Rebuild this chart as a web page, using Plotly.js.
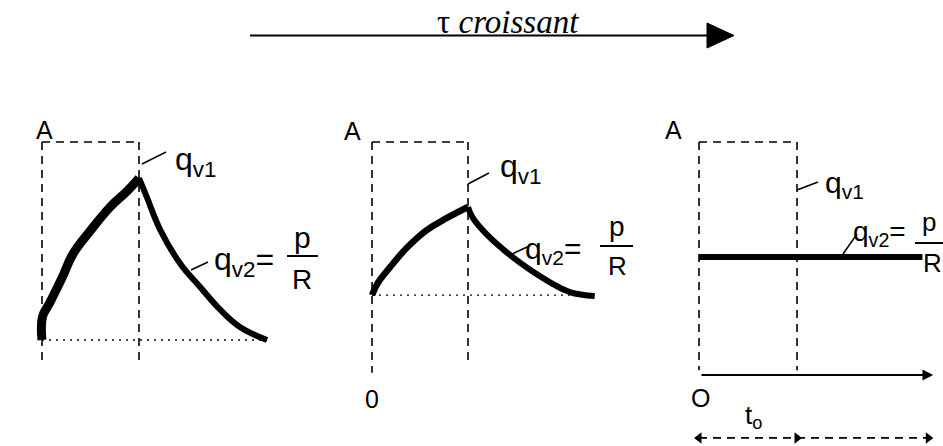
<!DOCTYPE html>
<html>
<head>
<meta charset="utf-8">
<script src="https://cdn.plot.ly/plotly-3.0.1.min.js"></script>
<style>
  html, body { margin: 0; padding: 0; background: #fff; }
  #chart { width: 943px; height: 446px; }
</style>
</head>
<body>
<div id="chart"></div>
<script>
// time in units of t0, signal in units of A
const T0 = 1;
const A = 1;

// panel 1 (small tau)
const p1RiseT = [0, 0.005, 0.08, 0.21, 0.32, 0.5, 0.7, 0.88, 1.0];
const p1RiseQ = [0.15, 0.25, 0.31, 0.42, 0.52, 0.62, 0.72, 0.79, 0.845];
const p1FallT = [1.0, 1.08, 1.22, 1.42, 1.63, 1.84, 2.04, 2.32];
const p1FallQ = [0.845, 0.764, 0.622, 0.481, 0.378, 0.279, 0.206, 0.15];
const p1Base = 0.15;
const p1End = 2.32;
const p1Bottom = [0.04, 0.04];

// panel 2 (medium tau)
const p2RiseT = [0, 0.06, 0.19, 0.37, 0.57, 0.78, 1.0];
const p2RiseQ = [0.343, 0.395, 0.464, 0.549, 0.622, 0.674, 0.721];
const p2FallT = [1.0, 1.05, 1.2, 1.41, 1.62, 1.85, 2.06, 2.32];
const p2FallQ = [0.721, 0.674, 0.601, 0.524, 0.459, 0.399, 0.356, 0.339];
const p2Base = 0.343;
const p2End = 2.32;
const p2Bottom = [0.01, 0.064];

// panel 3 (large tau)
const p3T = [0, 2.28];
const p3Q = [0.506, 0.506];
const p3Bottom = [0.02, 0.02];
const p3AxisEnd = 2.39;
const p3SpanY = -0.27;
const p3SpanT = [0, T0, 2.34];

const W = 943, H = 446;
const px = (x) => x / W;
const py = (y) => 1 - y / H;

function dashed(xa, ya, x, y) {
    return { x: x, y: y, xaxis: xa, yaxis: ya, mode: 'lines', hoverinfo: 'skip',
        line: { color: '#000', width: 1.6, dash: '8px,6px' } };
}
function dotted(xa, ya, x, y) {
    return { x: x, y: y, xaxis: xa, yaxis: ya, mode: 'lines', hoverinfo: 'skip',
        line: { color: '#000', width: 1.4, dash: '2px,5px' } };
}
function curve(xa, ya, x, y, w) {
    return { x: x, y: y, xaxis: xa, yaxis: ya, mode: 'lines', hoverinfo: 'skip',
        line: { color: '#000', width: w, shape: 'spline', smoothing: 1.2 } };
}
function box(xa, ya, bottom) {
    return [
        dashed(xa, ya, [0, 0], [A, bottom[0]]),
        dashed(xa, ya, [T0, T0], [A, bottom[1]]),
        dashed(xa, ya, [0, T0], [A, A])
    ];
}

const data = [].concat(
    box('x', 'y', p1Bottom),
    [dotted('x', 'y', [0, p1End], [p1Base, p1Base]),
     curve('x', 'y', p1RiseT, p1RiseQ, 9),
     curve('x', 'y', p1FallT, p1FallQ, 6)],
    box('x2', 'y2', p2Bottom),
    [dotted('x2', 'y2', [0, p2End], [p2Base, p2Base]),
     curve('x2', 'y2', p2RiseT, p2RiseQ, 6.5),
     curve('x2', 'y2', p2FallT, p2FallQ, 6)],
    box('x3', 'y3', p3Bottom),
    [curve('x3', 'y3', p3T, p3Q, 6),
     dashed('x3', 'y3', [p3SpanT[0], p3SpanT[2]], [p3SpanY, p3SpanY]),
     { x: p3SpanT, y: p3SpanT.map(() => p3SpanY), xaxis: 'x3', yaxis: 'y3',
       mode: 'markers', hoverinfo: 'skip',
       marker: { color: '#000', size: 10, symbol: ['triangle-left', 'triangle-right', 'triangle-right'] } }]
);

const yRange = [-0.3047, 1.6094];
const hidden = { visible: false, fixedrange: true };

const hand = { family: 'Liberation Sans, Arial, sans-serif', color: '#000' };
function label(text, x, y, size, xanchor) {
    return { text: text, x: px(x), y: py(y), xref: 'paper', yref: 'paper',
        showarrow: false, xanchor: xanchor || 'center', yanchor: 'middle',
        font: Object.assign({ size: size }, hand) };
}
function leader(x0, y0, x1, y1) {
    return { type: 'line', xref: 'paper', yref: 'paper',
        x0: px(x0), y0: py(y0), x1: px(x1), y1: py(y1),
        line: { color: '#000', width: 1.5 } };
}
function bar(x0, x1, y) {
    return { type: 'line', xref: 'paper', yref: 'paper',
        x0: px(x0), y0: py(y), x1: px(x1), y1: py(y),
        line: { color: '#000', width: 2 } };
}

const annotations = [
    { text: 'τ <i>croissant</i>', x: px(508), y: py(22), xref: 'paper', yref: 'paper',
      showarrow: false, xanchor: 'center', yanchor: 'middle',
      font: { family: 'Liberation Serif, Times New Roman, serif', size: 33, color: '#000' } },

    // panel 1
    label('A', 44, 130, 25),
    label('q<sub>v1</sub>', 173, 162, 32, 'left'),
    label('q<sub>v2</sub>=', 212, 261, 32, 'left'),
    label('p', 302, 237, 30),
    label('R', 302, 279, 28),

    // panel 2
    label('A', 352, 131, 25),
    label('0', 372, 399, 25),
    label('q<sub>v1</sub>', 498, 168, 32, 'left'),
    label('q<sub>v2</sub>=', 523, 251, 30, 'left'),
    label('p', 617, 226, 28),
    label('R', 617, 266, 26),

    // panel 3
    label('A', 673, 130, 25),
    label('O', 700, 398, 25),
    label('q<sub>v1</sub>', 823, 184, 30, 'left'),
    label('q<sub>v2</sub>=', 851, 234, 28, 'left'),
    label('p', 929, 222, 26),
    label('R', 932, 263, 26),
    label('t<sub>o</sub>', 743, 416, 26, 'left'),

    // time axis of panel 3
    { x: p3AxisEnd, y: 0, ax: 0.01, ay: 0, xref: 'x3', yref: 'y3', axref: 'x3', ayref: 'y3',
      text: '', showarrow: true, arrowhead: 2, arrowsize: 1.2, arrowwidth: 1.8, arrowcolor: '#000' }
];

const shapes = [
    // "tau croissant" arrow
    { type: 'line', xref: 'paper', yref: 'paper', x0: px(250), y0: py(35.5), x1: px(710), y1: py(35.5),
      line: { color: '#000', width: 2 } },
    { type: 'path', xref: 'paper', yref: 'paper',
      path: 'M ' + px(707) + ' ' + py(23) + ' L ' + px(734) + ' ' + py(35.5) + ' L ' + px(707) + ' ' + py(48) + ' Z',
      fillcolor: '#000', line: { color: '#000', width: 1 } },

    leader(142, 164, 166, 152),
    leader(191, 270, 208, 262),
    bar(287, 318, 256),

    leader(468, 184, 489, 173),
    leader(510, 255, 527, 247),
    bar(600, 633, 246),

    leader(797, 190, 818, 182),
    leader(843, 254, 857, 234),
    bar(915, 943, 243)
];

const layout = {
    width: W, height: H,
    margin: { l: 0, r: 0, t: 0, b: 0 },
    paper_bgcolor: '#fff', plot_bgcolor: 'rgba(0,0,0,0)',
    showlegend: false,
    xaxis:  Object.assign({ domain: [0.0034, 0.3120], range: [-0.4, 2.6], anchor: 'y' }, hidden),
    yaxis:  Object.assign({ domain: [0, 1], range: yRange, anchor: 'x' }, hidden),
    xaxis2: Object.assign({ domain: [0.3538, 0.6592], range: [-0.4, 2.6], anchor: 'y2' }, hidden),
    yaxis2: Object.assign({ domain: [0, 1], range: yRange, anchor: 'x2' }, hidden),
    xaxis3: Object.assign({ domain: [0.6997, 0.9990], range: [-0.4, 2.48], anchor: 'y3' }, hidden),
    yaxis3: Object.assign({ domain: [0, 1], range: yRange, anchor: 'x3' }, hidden),
    annotations: annotations,
    shapes: shapes
};

Plotly.newPlot('chart', data, layout, { displayModeBar: false });
</script>
</body>
</html>
